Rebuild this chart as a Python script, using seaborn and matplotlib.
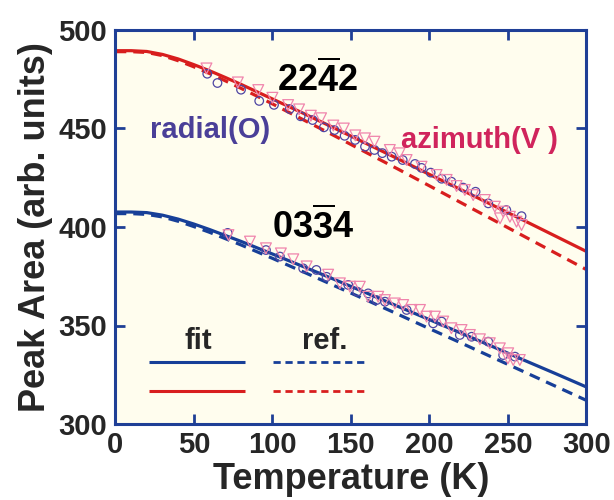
import numpy as np
import pandas as pd
import matplotlib
matplotlib.use("Agg")
import matplotlib.pyplot as plt
import seaborn as sns

# ---- fitted and reference curves (Peak Area vs Temperature) ----
curve_T = [0, 10, 20, 30, 40, 50, 60, 70, 80, 90, 100, 120, 140, 160, 180, 200,
           220, 240, 260, 280, 300]
fit_2242 = [489.5, 489.5, 489.1, 487.6, 485.3, 482.4, 479.3, 475.9, 472.4, 468.7,
            465.0, 457.6, 450.0, 442.3, 434.6, 426.7, 419.0, 411.2, 403.4, 395.5, 387.6]
ref_2242 = [489.0, 489.0, 488.6, 487.0, 484.4, 481.3, 477.9, 474.2, 470.4, 466.5,
            462.5, 454.3, 446.1, 437.7, 429.4, 420.9, 412.4, 403.9, 395.4, 386.9, 378.4]
fit_0334 = [407.6, 407.6, 407.3, 406.0, 404.0, 401.5, 398.7, 395.7, 392.7, 389.5,
            386.3, 379.8, 373.2, 366.5, 359.7, 353.0, 346.2, 339.4, 332.5, 325.7, 318.8]
ref_0334 = [406.8, 406.8, 406.4, 405.1, 402.9, 400.2, 397.3, 394.1, 390.9, 387.5,
            384.1, 377.1, 370.0, 362.9, 355.7, 348.4, 341.2, 333.9, 326.6, 319.3, 312.0]

# ---- measured points: 2242 reflection ----
rad_2242_T = [58.5, 65, 80, 91.6, 101, 111, 118, 125.6, 132.8, 139.5, 146, 152.7, 159,
              165, 170, 176, 183, 190.8, 195, 200.8, 207.8, 214, 221.5, 229.4, 237.5,
              249, 258.7]
rad_2242_A = [477.8, 473.1, 469.7, 464.0, 462.0, 459.9, 456.2, 454.3, 450.6, 449.2,
              446.3, 444.2, 440.8, 439.1, 437.5, 435.7, 434.0, 432.0, 430.0, 427.6,
              424.5, 423.0, 420.0, 417.9, 412.0, 408.6, 405.5]
azi_2242_T = [58, 78, 91, 100, 110, 117, 124.5, 131, 138.8, 145.5, 152.8, 159, 165,
              174.8, 181, 185.5, 195, 204.6, 211, 217.3, 222.6, 227.9, 235.3, 241.7,
              245, 247, 251.3, 255.5, 258.7]
azi_2242_A = [480.5, 473.4, 469.5, 465.6, 461.9, 459.7, 456.5, 455.2, 451.5, 450.0,
              446.5, 445.0, 443.3, 439.1, 437.4, 434.0, 430.6, 426.4, 423.9, 420.8,
              418.8, 416.2, 413.7, 410.3, 404.4, 407.8, 405.2, 402.7, 401.0]

# ---- measured points: 0334 reflection ----
rad_0334_T = [71.5, 95.9, 104.8, 119.6, 128, 134.5, 148.3, 154, 161, 166.4, 171.7,
              185.5, 202.4, 207.8, 219.4, 226.9, 237.5, 247, 254.5]
rad_0334_A = [397.0, 388.3, 385.0, 379.0, 378.2, 374.7, 370.6, 367.2, 366.3, 362.9,
              362.1, 357.9, 351.1, 352.0, 345.2, 344.3, 341.8, 335.0, 334.2]
azi_0334_T = [72, 85.7, 95.9, 105.4, 113.3, 121.8, 135.5, 143, 149.4, 155.7, 161,
              167.4, 171.7, 178, 183.3, 188.7, 194, 198.2, 203.5, 208.8, 214, 220.5,
              225.8, 232.2, 238.5, 244.9, 250.2, 250, 253.4, 257.6]
azi_0334_A = [395.9, 392.6, 389.2, 386.6, 383.6, 380.0, 375.8, 371.4, 369.7, 369.7,
              364.6, 364.6, 362.9, 361.2, 360.4, 357.9, 357.9, 354.5, 354.5, 352.0,
              348.6, 347.7, 345.2, 343.0, 341.0, 338.4, 335.9, 333.3, 332.5, 332.5]

x_ticks = [0, 50, 100, 150, 200, 250, 300]
y_ticks = [300, 350, 400, 450, 500]

RED = "#d81e1e"
BLUE = "#173f98"
SPINE = "#1f3f96"
CIRCLE = "#4e45a3"
TRI = "#f084ac"
RADIAL_TXT = "#4a3f98"
AZI_TXT = "#d0245c"
BG = "#fffdee"

sns.set_style("ticks")
plt.rcParams["font.family"] = ["Liberation Sans", "DejaVu Sans"]
plt.rcParams["font.weight"] = "bold"
plt.rcParams["mathtext.fontset"] = "custom"
plt.rcParams["mathtext.rm"] = "Liberation Sans:bold"
plt.rcParams["mathtext.bf"] = "Liberation Sans:bold"
plt.rcParams["mathtext.it"] = "Liberation Sans:bold"

fig = plt.figure(figsize=(6.14, 5.0), dpi=100)
ax = fig.add_axes([0.188, 0.152, 0.767, 0.788])
ax.set_facecolor(BG)

dash = (0, (3.4, 2.2))
curves = [
    (fit_2242, RED, "-"),
    (ref_2242, RED, dash),
    (fit_0334, BLUE, "-"),
    (ref_0334, BLUE, dash),
]
for vals, col, ls in curves:
    df = pd.DataFrame({"T": curve_T, "A": vals})
    sns.lineplot(data=df, x="T", y="A", color=col, linewidth=2.3,
                 linestyle=ls, ax=ax, zorder=2)

points = [
    (rad_2242_T, rad_2242_A, "o", CIRCLE, 38),
    (rad_0334_T, rad_0334_A, "o", CIRCLE, 38),
    (azi_2242_T, azi_2242_A, "v", TRI, 60),
    (azi_0334_T, azi_0334_A, "v", TRI, 60),
]
for tx, ay, mk, col, sz in points:
    df = pd.DataFrame({"T": tx, "A": ay})
    sns.scatterplot(data=df, x="T", y="A", marker=mk, s=sz, ax=ax, zorder=3)
    coll = ax.collections[-1]
    coll.set_facecolor("none")
    coll.set_edgecolor(col)
    coll.set_linewidth(0.9)

ax.set_xlim(0, 300)
ax.set_ylim(300, 500)
ax.set_xticks(x_ticks)
ax.set_yticks(y_ticks)
ax.tick_params(direction="in", length=7, width=2.0, color=SPINE,
               top=True, right=True, labelsize=21, pad=6)
ax.tick_params(axis="x", pad=5)
for lab in ax.get_xticklabels() + ax.get_yticklabels():
    lab.set_fontweight("bold")
for sp in ax.spines.values():
    sp.set_color(SPINE)
    sp.set_linewidth(2.2)

ax.set_xlabel("Temperature (K)", fontsize=26, fontweight="bold", labelpad=2)
ax.set_ylabel("Peak Area (arb. units)", fontsize=26, fontweight="bold", labelpad=4)

# reflection labels
ax.text(0.43, 0.873, r"$\mathbf{22\overline{4}2}$", transform=ax.transAxes,
        fontsize=26, ha="center", va="center", color="black")
ax.text(0.419, 0.50, r"$\mathbf{03\overline{3}4}$", transform=ax.transAxes,
        fontsize=26, ha="center", va="center", color="black")
ax.text(0.202, 0.745, "radial(O)", transform=ax.transAxes, fontsize=21,
        fontweight="bold", color=RADIAL_TXT, ha="center", va="center")
ax.text(0.774, 0.72, "azimuth(V )", transform=ax.transAxes, fontsize=21,
        fontweight="bold", color=AZI_TXT, ha="center", va="center")

# line-style key
ax.text(0.175, 0.21, "fit", transform=ax.transAxes, fontsize=21,
        fontweight="bold", ha="center", va="center")
ax.text(0.445, 0.21, "ref.", transform=ax.transAxes, fontsize=21,
        fontweight="bold", ha="center", va="center")
key_dash = (0, (2.6, 1.7))
for yk, col in [(0.158, BLUE), (0.084, RED)]:
    ax.plot([0.071, 0.275], [yk, yk], transform=ax.transAxes, color=col,
            lw=2.2, solid_capstyle="butt")
    ax.plot([0.334, 0.528], [yk, yk], transform=ax.transAxes, color=col,
            lw=2.0, linestyle=key_dash)

fig.savefig("out.png", dpi=100, facecolor="white")
